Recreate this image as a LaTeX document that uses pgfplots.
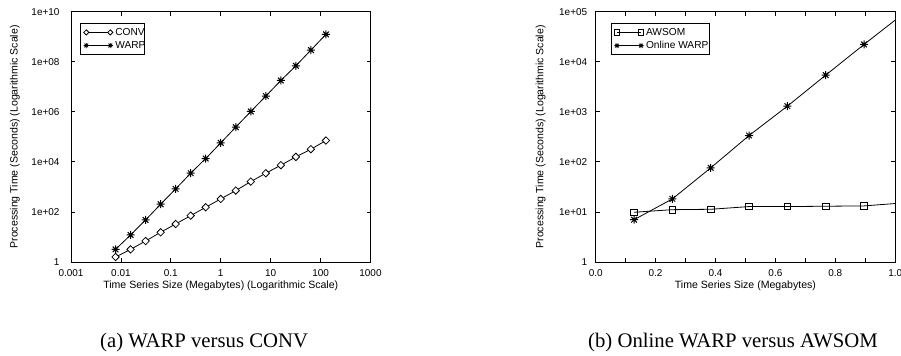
\documentclass[border=0pt]{standalone}
\usepackage{fontspec}
\setmainfont{Liberation Sans}
\newfontfamily\capfont{Liberation Serif}
\usepackage{pgfplots}
\pgfplotsset{compat=1.18}
\pgfdeclareplotmark{gpstar}{%
  \pgfpathmoveto{\pgfqpoint{-\pgfplotmarksize}{0pt}}\pgfpathlineto{\pgfqpoint{\pgfplotmarksize}{0pt}}%
  \pgfpathmoveto{\pgfqpoint{0pt}{-\pgfplotmarksize}}\pgfpathlineto{\pgfqpoint{0pt}{\pgfplotmarksize}}%
  \pgfpathmoveto{\pgfqpoint{-0.7071\pgfplotmarksize}{-0.7071\pgfplotmarksize}}\pgfpathlineto{\pgfqpoint{0.7071\pgfplotmarksize}{0.7071\pgfplotmarksize}}%
  \pgfpathmoveto{\pgfqpoint{-0.7071\pgfplotmarksize}{0.7071\pgfplotmarksize}}\pgfpathlineto{\pgfqpoint{0.7071\pgfplotmarksize}{-0.7071\pgfplotmarksize}}%
  \pgfusepathqstroke}
\pgfdeclareplotmark{gpdiamond}{%
  \pgfpathmoveto{\pgfqpoint{0pt}{\pgfplotmarksize}}%
  \pgfpathlineto{\pgfqpoint{\pgfplotmarksize}{0pt}}%
  \pgfpathlineto{\pgfqpoint{0pt}{-\pgfplotmarksize}}%
  \pgfpathlineto{\pgfqpoint{-\pgfplotmarksize}{0pt}}%
  \pgfpathclose
  \pgfusepathqfillstroke}
\pgfplotsset{
  gpaxis/.style={
    scale only axis, width=299.5bp, height=250.3bp, anchor=south west,
    font=\fontsize{10}{12}\selectfont,
    /pgf/number format/assume math mode=true,
    axis line style={line width=0.8bp}, every tick/.style={black, line width=0.8bp},
    major tick length=4bp, minor tick length=4bp,
    tick align=inside,
    xticklabel style={yshift=-4bp},
    label style={font=\fontsize{10.6}{12}\selectfont},
    legend cell align=left,
    legend image code/.code={\draw[#1, /tikz/mark size=2.6bp, /tikz/every mark/.append style={line width=0.8bp}] plot coordinates {(0bp,0bp) (24bp,0bp)};},
    legend style={draw=black, line width=0.8bp, font=\fontsize{10.2}{12}\selectfont,
      inner xsep=3bp, inner ysep=3.5bp, row sep=2.5bp, column sep=1.5bp,
      nodes={inner xsep=1bp, inner ysep=1bp}, anchor=north west},
    every axis plot/.append style={black, line width=0.8bp},
  }
}
\begin{document}
\begin{tikzpicture}
\useasboundingbox (0,0) rectangle (901bp,356bp);
\begin{axis}[gpaxis, at={(71bp,94bp)},
  xmode=log, ymode=log, xmin=0.001, xmax=1000, ymin=1, ymax=1e10,
  xtick={0.001,0.01,0.1,1,10,100,1000},
  xticklabels={0.001,0.01,0.1,1,10,100,1000},
  ytick={1,1e2,1e4,1e6,1e8,1e10},
  yticklabels={1,1e+02,1e+04,1e+06,1e+08,1e+10},
  xminorticks=false, yminorticks=false,
  yticklabel style={xshift=-8bp},
  xlabel={Time Series Size (Megabytes) (Logarithmic Scale)},
  ylabel={Processing Time (Seconds) (Logarithmic Scale)},
  xlabel style={at={(axis description cs:0.5,-0.096)}, anchor=center},
  ylabel style={at={(axis description cs:-0.187,0.5)}, anchor=center},
  legend style={at={(axis description cs:0.031,0.954)}},
]
\addplot[mark=gpdiamond, mark size=3.7bp, mark options={fill=white, solid}] coordinates {
(0.0078125,1.58) (0.015625,3.2) (0.03125,6.9) (0.0625,15.4) (0.125,33) (0.25,71) (0.5,154) (1,331) (2,713) (4,1633) (8,3524) (16,7360) (32,15850) (64,32100) (128,71300)};
\addlegendentry{\makebox[25bp][l]{CONV}}
\addplot[mark=gpstar, mark size=4bp, mark options={line width=1bp}] coordinates {
(0.0078125,3.2) (0.015625,12) (0.03125,48) (0.0625,203) (0.125,832) (0.25,3524) (0.5,13600) (1,57500) (2,244000) (4,1.03e6) (8,4.24e6) (16,1.79e7) (32,6.9e7) (64,2.93e8) (128,1.24e9)};
\addlegendentry{\makebox[25bp][l]{WARP}}
\end{axis}
\begin{axis}[gpaxis, at={(595.7bp,94bp)},
  ymode=log, xmin=0, xmax=1, ymin=1, ymax=1e5,
  xtick={0,0.2,0.4,0.6,0.8,1},
  xticklabels={0.0,0.2,0.4,0.6,0.8,1.0},
  minor xtick={0.1,0.3,0.5,0.7,0.9},
  ytick={1,10,100,1000,1e4,1e5},
  yticklabels={1,1e+01,1e+02,1e+03,1e+04,1e+05},
  yminorticks=false,
  yticklabel style={xshift=-5bp},
  xlabel={Time Series Size (Megabytes)},
  ylabel={Processing Time (Seconds) (Logarithmic Scale)},
  xlabel style={at={(axis description cs:0.5,-0.096)}, anchor=center},
  ylabel style={at={(axis description cs:-0.1836,0.5)}, anchor=center},
  legend style={at={(axis description cs:0.051,0.954)}},
]
\addplot[mark=square, mark size=3.3bp, mark options={fill=white, solid}] coordinates {
(0.128,9.85) (0.256,11.1) (0.384,11.3) (0.512,12.8) (0.640,12.8) (0.768,13.0) (0.896,13.2) (1.024,15.1)};
\addlegendentry{\makebox[25bp][l]{AWSOM}}
\addplot[mark=gpstar, mark size=4bp, mark options={line width=1bp}] coordinates {
(0.128,7.0) (0.256,18.2) (0.384,75.9) (0.512,336) (0.640,1298) (0.768,5410) (0.896,22200) (1.024,88100)};
\addlegendentry{\makebox[59bp][l]{Online WARP}}
\end{axis}
\node[anchor=base west, inner sep=0pt, font=\capfont\fontsize{20.8}{24}\selectfont] at (100bp,9bp) {(a) WARP versus CONV};
\node[anchor=base west, inner sep=0pt, font=\capfont\fontsize{20.8}{24}\selectfont] at (588bp,9bp) {(b) Online WARP versus AWSOM};
\end{tikzpicture}
\end{document}
